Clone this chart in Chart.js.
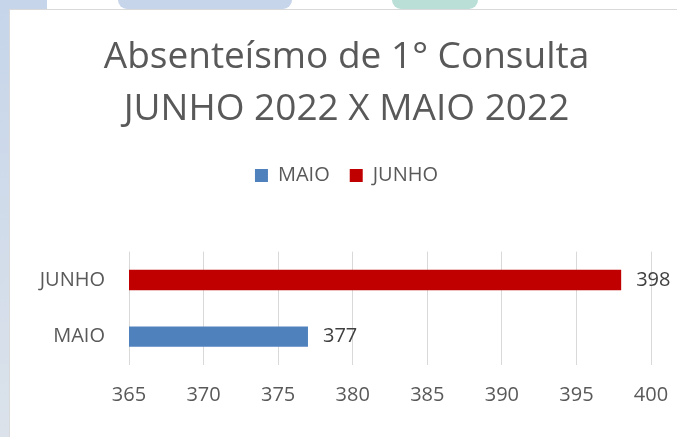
<!DOCTYPE html>
<html>
<head>
<meta charset="utf-8">
<script src="https://cdn.jsdelivr.net/npm/chart.js@4"></script>
<style>
  html, body { margin: 0; padding: 0; width: 677px; height: 437px; overflow: hidden; background: #fff; }
  .deco { position: absolute; }
  #box { position: absolute; left: 9px; top: 9px; right: 0; bottom: 0; background: #fff;
         border-top: 1px solid #d9d9d9; border-left: 1px solid #d9d9d9; }
  #box canvas { display: block; }
</style>
</head>
<body>
<div class="deco" style="left:0;top:0;width:9px;height:437px;background:linear-gradient(#c6d5ea,#dbe2ea);"></div>
<div class="deco" style="left:0;top:0;width:47px;height:9px;background:#c6d5ea;"></div>
<div class="deco" style="left:118px;top:0;width:174px;height:9px;background:#c6d5ea;border-radius:0 0 30px 30px;"></div>
<div class="deco" style="left:392px;top:0;width:86px;height:9px;background:#b9dfd7;border-radius:0 0 25px 25px;"></div>
<div id="box"><canvas id="chart" width="667" height="427"></canvas></div>
<script>
const categories = ["JUNHO", "MAIO"];
const maio = [null, 377];
const junho = [398, null];
const xTicks = { min: 365, max: 400, step: 5 };

const textColor = "#595959";
const fontFamily = "'Open Sans', sans-serif";

// value at the end of each bar
const valueLabels = {
  id: "valueLabels",
  afterDatasetsDraw(chart) {
    const ctx = chart.ctx;
    ctx.save();
    ctx.font = "20px " + fontFamily;
    ctx.fillStyle = "#404040";
    ctx.textAlign = "left";
    ctx.textBaseline = "middle";
    chart.data.datasets.forEach((ds, i) => {
      chart.getDatasetMeta(i).data.forEach((bar, j) => {
        if (ds.data[j] == null) return;
        ctx.fillText(ds.data[j], bar.x + 15, bar.y);
      });
    });
    ctx.restore();
  }
};

new Chart(document.getElementById("chart"), {
  type: "bar",
  data: {
    labels: categories,
    datasets: [
      { label: "MAIO", data: maio, backgroundColor: "#4f81bd" },
      { label: "JUNHO", data: junho, backgroundColor: "#c00000" }
    ]
  },
  options: {
    indexAxis: "y",
    responsive: false,
    animation: false,
    datasets: { bar: { grouped: false, barPercentage: 0.36, categoryPercentage: 1 } },
    layout: { padding: { left: 22, right: 16, top: 0, bottom: 12 } },
    plugins: {
      title: {
        display: true,
        text: ["Absenteísmo de 1° Consulta", "JUNHO 2022 X MAIO 2022"],
        color: textColor,
        font: { family: fontFamily, size: 37, weight: "normal", lineHeight: 1.4 },
        padding: { top: 22, bottom: 10 }
      },
      // empty spacer between legend and plot
      subtitle: {
        display: true,
        text: "",
        weight: 500,
        font: { size: 1, lineHeight: 1 },
        padding: { top: 0, bottom: 55 }
      },
      legend: {
        labels: {
          color: textColor,
          font: { family: fontFamily, size: 20 },
          boxWidth: 13,
          boxHeight: 13,
          padding: 20
        }
      },
      tooltip: { enabled: false }
    },
    scales: {
      x: {
        min: xTicks.min,
        max: xTicks.max,
        ticks: { stepSize: xTicks.step, color: textColor, font: { family: fontFamily, size: 20 }, padding: 18 },
        grid: { color: "#d9d9d9", lineWidth: 1, drawTicks: false },
        border: { display: false },
        afterFit(scale) { scale.paddingRight = 26; }
      },
      y: {
        ticks: { color: textColor, font: { family: fontFamily, size: 20 }, padding: 24 },
        grid: { display: false, drawTicks: false },
        border: { display: false },
        afterFit(scale) { scale.width = 97; }
      }
    }
  },
  plugins: [valueLabels]
});
</script>
</body>
</html>
